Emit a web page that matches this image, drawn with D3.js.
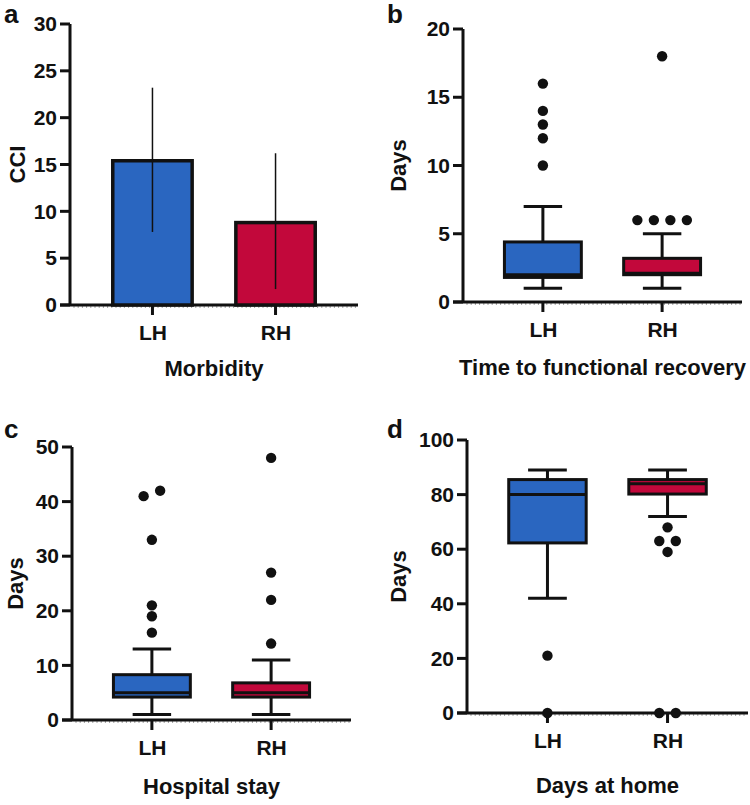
<!DOCTYPE html>
<html>
<head>
<meta charset="utf-8">
<script src="https://cdn.jsdelivr.net/npm/d3@7"></script>
<style>
  body { margin: 0; background: #fff; }
  svg text { font-family: "Liberation Sans", Arial, sans-serif; font-weight: bold; fill: #111; }
</style>
</head>
<body>
<svg id="chart" width="750" height="805"></svg>
<script>
// groups
const groups = ["LH", "RH"];
const groupColors = ["#2a66c0", "#c2083b"];

// a: morbidity (CCI), bars with error lines
const cciValue = [15.4, 8.8];
const cciLow = [7.8, 1.7];
const cciHigh = [23.2, 16.2];
const cciTicks = [0, 5, 10, 15, 20, 25, 30];

// b: time to functional recovery (days)
const recMin = [1, 1];
const recQ1 = [1.8, 2];
const recMedian = [2, 2.1];
const recQ3 = [4.4, 3.2];
const recMax = [7, 5];
const recOutliers = [[10, 12, 13, 14, 16], [6, 6, 6, 6, 18]];
const recTicks = [0, 5, 10, 15, 20];

// c: hospital stay (days)
const stayMin = [1, 1];
const stayQ1 = [4.2, 4.2];
const stayMedian = [5, 5];
const stayQ3 = [8.3, 6.8];
const stayMax = [13, 11];
const stayOutliers = [[16, 19, 21, 33, 41, 42], [14, 22, 27, 48]];
const stayTicks = [0, 10, 20, 30, 40, 50];

// d: days at home
const homeMin = [42, 72];
const homeQ1 = [62.3, 80.2];
const homeMedian = [80, 84];
const homeQ3 = [85.5, 85.5];
const homeMax = [89, 89];
const homeOutliers = [[0, 21], [0, 0, 59, 63, 63, 68]];
const homeTicks = [0, 20, 40, 60, 80, 100];

const svg = d3.select("#chart");

function styleAxis(sel) {
    sel.attr("font-size", 21).attr("font-family", null);
    sel.select(".domain").remove();
    sel.selectAll(".tick line").remove();
    sel.selectAll(".tick text")
        .style("font-size", "21px")
        .style("font-family", "'Liberation Sans', Arial, sans-serif")
        .style("font-weight", "bold")
        .style("fill", "#111");
}

function drawPanel(cfg) {
    const g = svg.append("g");

    const x = d3.scalePoint()
        .domain(groups)
        .range([cfg.left, cfg.right])
        .padding(0.67);

    const y = d3.scaleLinear()
        .domain([0, cfg.ticks[cfg.ticks.length - 1]])
        .range([cfg.bottom, cfg.top]);

    const boxW = x.step() * 0.645;

    // minor ticks along the x axis
    g.append("g").selectAll("line")
        .data(d3.range(cfg.left + 4, cfg.right, 4.2))
        .join("line")
        .attr("x1", d => d).attr("x2", d => d)
        .attr("y1", cfg.bottom).attr("y2", cfg.bottom + 3)
        .attr("stroke", "#888").attr("stroke-width", 0.8);

    // axis labels from d3 axes
    const ya = g.append("g")
        .attr("transform", `translate(${cfg.left},0)`)
        .call(d3.axisLeft(y).tickValues(cfg.ticks).tickSize(10).tickPadding(3));
    styleAxis(ya);
    const xa = g.append("g")
        .attr("transform", `translate(0,${cfg.bottom})`)
        .call(d3.axisBottom(x).tickSize(10).tickPadding(10));
    styleAxis(xa);

    // axis lines and tick marks, drawn heavy
    const ax = g.append("g").attr("stroke", "#111").attr("stroke-width", 3);
    ax.append("line")
        .attr("x1", cfg.left).attr("x2", cfg.left)
        .attr("y1", y(0)).attr("y2", cfg.top);
    ax.append("line")
        .attr("x1", cfg.left - 10).attr("x2", cfg.right)
        .attr("y1", y(0)).attr("y2", y(0));
    ax.selectAll(".yt")
        .data(cfg.ticks)
        .join("line")
        .attr("x1", cfg.left - 10).attr("x2", cfg.left)
        .attr("y1", d => y(d)).attr("y2", d => y(d));
    ax.selectAll(".xt")
        .data(groups)
        .join("line")
        .attr("x1", d => x(d)).attr("x2", d => x(d))
        .attr("y1", y(0)).attr("y2", y(0) + 10);

    if (cfg.type === "bar") {
        g.append("g").selectAll("rect")
            .data(groups)
            .join("rect")
            .attr("x", d => x(d) - boxW / 2)
            .attr("y", (d, i) => y(cfg.value[i]))
            .attr("width", boxW)
            .attr("height", (d, i) => y(0) - y(cfg.value[i]))
            .attr("fill", (d, i) => groupColors[i])
            .attr("stroke", "#111").attr("stroke-width", 3.5);
        g.append("g").selectAll("line")
            .data(groups)
            .join("line")
            .attr("x1", d => x(d)).attr("x2", d => x(d))
            .attr("y1", (d, i) => y(cfg.low[i]))
            .attr("y2", (d, i) => y(cfg.high[i]))
            .attr("stroke", "#111").attr("stroke-width", 1.5);
    } else {
        const bx = g.append("g").selectAll("g")
            .data(groups)
            .join("g");
        // whiskers
        bx.append("line")
            .attr("x1", d => x(d)).attr("x2", d => x(d))
            .attr("y1", (d, i) => y(cfg.min[i])).attr("y2", (d, i) => y(cfg.max[i]))
            .attr("stroke", "#111").attr("stroke-width", 3);
        bx.append("line")
            .attr("x1", d => x(d) - boxW / 4).attr("x2", d => x(d) + boxW / 4)
            .attr("y1", (d, i) => y(cfg.min[i])).attr("y2", (d, i) => y(cfg.min[i]))
            .attr("stroke", "#111").attr("stroke-width", 3);
        bx.append("line")
            .attr("x1", d => x(d) - boxW / 4).attr("x2", d => x(d) + boxW / 4)
            .attr("y1", (d, i) => y(cfg.max[i])).attr("y2", (d, i) => y(cfg.max[i]))
            .attr("stroke", "#111").attr("stroke-width", 3);
        // box
        bx.append("rect")
            .attr("x", d => x(d) - boxW / 2)
            .attr("y", (d, i) => y(cfg.q3[i]))
            .attr("width", boxW)
            .attr("height", (d, i) => y(cfg.q1[i]) - y(cfg.q3[i]))
            .attr("fill", (d, i) => groupColors[i])
            .attr("stroke", "#111").attr("stroke-width", 3);
        // median
        bx.append("line")
            .attr("x1", d => x(d) - boxW / 2).attr("x2", d => x(d) + boxW / 2)
            .attr("y1", (d, i) => y(cfg.median[i])).attr("y2", (d, i) => y(cfg.median[i]))
            .attr("stroke", "#111").attr("stroke-width", 3);

        // outliers: dots that would overlap are spread side by side
        const dots = [];
        groups.forEach((grp, i) => {
            const vals = cfg.outliers[i].slice().sort((a, b) => a - b);
            let cluster = [];
            const flush = () => {
                cluster.forEach((v, k) => {
                    dots.push({ cx: x(grp) + (k - (cluster.length - 1) / 2) * 16.5, v: v });
                });
                cluster = [];
            };
            vals.forEach(v => {
                if (cluster.length && Math.abs(y(v) - y(cluster[0])) > 10) flush();
                cluster.push(v);
            });
            flush();
        });
        g.append("g").selectAll("circle")
            .data(dots)
            .join("circle")
            .attr("cx", d => d.cx)
            .attr("cy", d => y(d.v))
            .attr("r", 5.2)
            .attr("fill", "#111");
    }

    // titles
    g.append("text")
        .attr("x", (cfg.left + cfg.right) / 2)
        .attr("y", cfg.titleY)
        .attr("text-anchor", "middle")
        .attr("dominant-baseline", "middle")
        .attr("font-size", 22)
        .text(cfg.title);
    g.append("text")
        .attr("transform", `translate(${cfg.yTitleX},${(cfg.top + cfg.bottom) / 2}) rotate(-90)`)
        .attr("text-anchor", "middle")
        .attr("dominant-baseline", "middle")
        .attr("font-size", 22)
        .text(cfg.yTitle);
    g.append("text")
        .attr("x", cfg.letterX)
        .attr("y", cfg.letterY)
        .attr("font-size", 26)
        .text(cfg.letter);
}

drawPanel({
    type: "bar", letter: "a", letterX: 4, letterY: 23,
    left: 70, right: 358, top: 24, bottom: 305,
    ticks: cciTicks, value: cciValue, low: cciLow, high: cciHigh,
    title: "Morbidity", titleY: 370, yTitle: "CCI", yTitleX: 19
});

drawPanel({
    type: "box", letter: "b", letterX: 387, letterY: 23,
    left: 463, right: 742, top: 29, bottom: 302,
    ticks: recTicks, min: recMin, q1: recQ1, median: recMedian, q3: recQ3, max: recMax,
    outliers: recOutliers,
    title: "Time to functional recovery", titleY: 369, yTitle: "Days", yTitleX: 400
});

drawPanel({
    type: "box", letter: "c", letterX: 4, letterY: 438,
    left: 72, right: 351, top: 447, bottom: 720,
    ticks: stayTicks, min: stayMin, q1: stayQ1, median: stayMedian, q3: stayQ3, max: stayMax,
    outliers: stayOutliers,
    title: "Hospital stay", titleY: 788, yTitle: "Days", yTitleX: 17
});

drawPanel({
    type: "box", letter: "d", letterX: 387, letterY: 438,
    left: 467, right: 748, top: 440, bottom: 713,
    ticks: homeTicks, min: homeMin, q1: homeQ1, median: homeMedian, q3: homeQ3, max: homeMax,
    outliers: homeOutliers,
    title: "Days at home", titleY: 787, yTitle: "Days", yTitleX: 400
});
</script>
</body>
</html>
